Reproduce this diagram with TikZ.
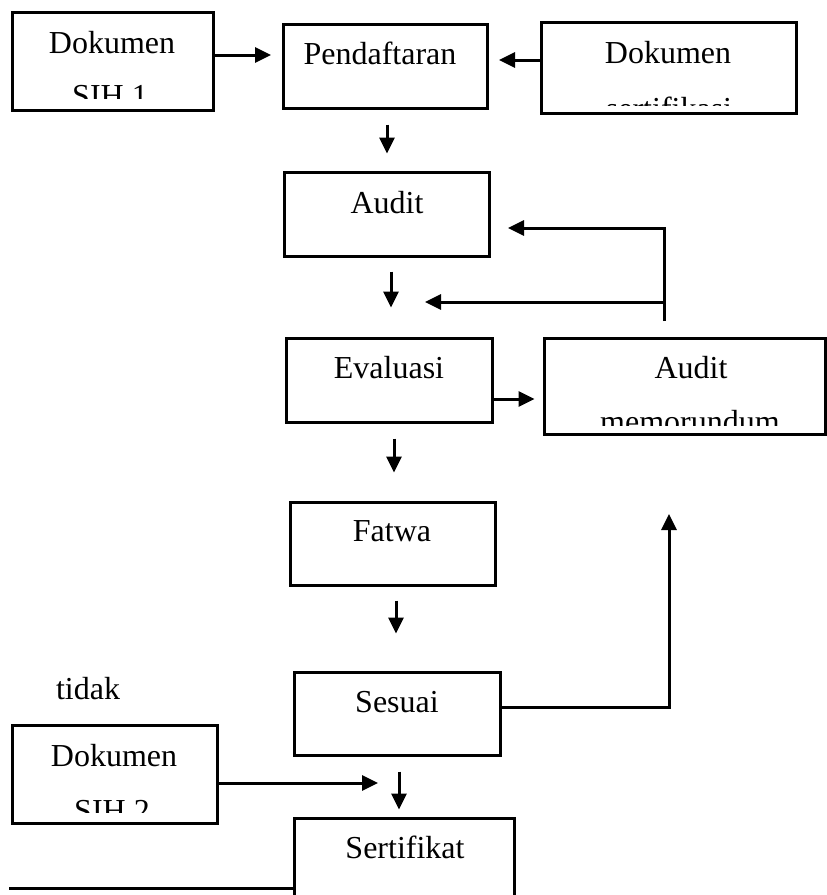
\documentclass[tikz,border=0pt]{standalone}
\usepackage{fontspec}
\setmainfont{Liberation Serif}
\usepackage{tikz}
\usetikzlibrary{arrows.meta, positioning}

\tikzset{
  box/.style={draw, line width=3pt, rectangle, inner sep=0pt},
  txt/.style={inner sep=0pt, anchor=base, font=\fontsize{32}{38}\selectfont},
  arr/.style={line width=3pt, -{Triangle[length=16pt,width=15pt]}},
  lin/.style={line width=3pt}
}

\begin{document}
\begin{tikzpicture}[x=1pt, y=-1pt]
  \useasboundingbox (0,0) rectangle (827,895);
  \clip (0,0) rectangle (827,895);

  % boxes
  \node[box, minimum width=201pt, minimum height=98pt] (sih1) at (112.5,61) {};
  \node[box, minimum width=204pt, minimum height=84pt] (pend) at (385,66) {};
  \node[box, minimum width=255pt, minimum height=91pt] (sert) at (668.5,67.5) {};
  \node[box, minimum width=205pt, minimum height=84pt] (audit) at (386.5,214) {};
  \node[box, minimum width=206pt, minimum height=84pt] (eval) at (389,380) {};
  \node[box, minimum width=281pt, minimum height=96pt] (memo) at (684.5,386) {};
  \node[box, minimum width=205pt, minimum height=83pt] (fatwa) at (392.5,543.5) {};
  \node[box, minimum width=206pt, minimum height=83pt] (sesuai) at (397,713.5) {};
  \node[box, minimum width=205pt, minimum height=98pt] (sih2) at (114.5,774) {};
  \node[box, minimum width=220pt, minimum height=102pt] (sertif) at (404,869) {};

  % texts
  \node[txt] (sih1a) at (112,53) {Dokumen};
  \begin{scope}
    \clip (sih1.north west) rectangle ([yshift=13pt]sih1.south east);
    \node[txt] (sih1b) at (110,106) {SIH 1};
  \end{scope}
  \node[txt] (pendt) at (380,64) {Pendaftaran};
  \node[txt] (serta) at (668,63) {Dokumen};
  \begin{scope}
    \clip (sert.north west) rectangle ([yshift=9pt]sert.south east);
    \node[txt] (sertb) at (669,119) {sertifikasi};
  \end{scope}
  \node[txt] (auditt) at (387,213) {Audit};
  \node[txt] (evalt) at (389,378) {Evaluasi};
  \node[txt] (memoa) at (691,378) {Audit};
  \begin{scope}
    \clip (memo.north west) rectangle ([yshift=10pt]memo.south east);
    \node[txt] (memob) at (690,432) {memorundum};
  \end{scope}
  \node[txt] (fatwat) at (392,541) {Fatwa};
  \node[txt] (sesuait) at (397,712) {Sesuai};
  \node[txt] (tidak) at (88,699) {tidak};
  \node[txt] (sih2a) at (114,766) {Dokumen};
  \begin{scope}
    \clip (sih2.north west) rectangle ([yshift=12pt]sih2.south east);
    \node[txt] (sih2b) at (112,821) {SIH 2};
  \end{scope}
  \node[txt] (sertift) at (405,858) {Sertifikat};

  % free ends
  \coordinate (p1) at (271,55);
  \coordinate (p2) at (499,60);
  \coordinate (m1) at (664,321);
  \coordinate (t1) at (508,228);
  \coordinate (t2) at (425,302);
  \coordinate (u1) at (669,514);
  \coordinate (s1) at (378,783);
  \coordinate (l1) at (9,888);

  % connectors
  \draw[arr] (sih1.east |- p1) -- (p1);
  \draw[arr] (sert.west |- p2) -- (p2);
  \draw[arr] ([xshift=2pt,yshift=-15pt]pend.south) -- ++(0,29);
  \draw[arr] ([xshift=4.5pt,yshift=-14pt]audit.south) -- ++(0,36);
  \draw[arr] (m1) |- (t1);
  \draw[arr] (m1 |- t2) -- (t2);
  \draw[arr] (eval.east |- 0,399) -- ([xshift=-8pt]memo.west |- 0,399);
  \draw[arr] ([xshift=5pt,yshift=-15pt]eval.south) -- ++(0,34);
  \draw[arr] ([xshift=3.5pt,yshift=-14pt]fatwa.south) -- ++(0,33);
  \draw[arr] ([yshift=6.5pt]sesuai.east) -| (u1);
  \draw[arr] (sih2.east |- s1) -- (s1);
  \draw[arr] ([xshift=-5pt,yshift=45pt]sertif.north) -- ([xshift=-5pt,yshift=7pt]sertif.north);
  \draw[lin] (l1) -- (sertif.west |- l1);
\end{tikzpicture}
\end{document}
